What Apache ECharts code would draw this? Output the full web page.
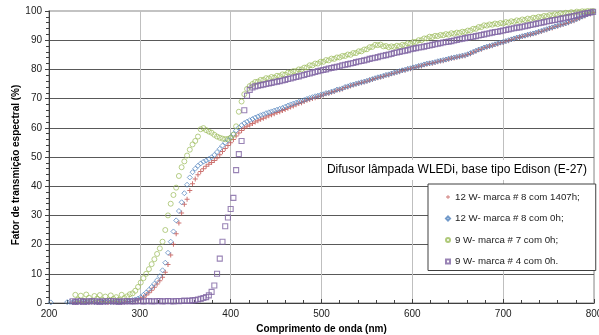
<!DOCTYPE html>
<html>
<head>
<meta charset="utf-8">
<script src="https://cdn.jsdelivr.net/npm/echarts@6/dist/echarts.min.js"></script>
<style>
html,body{margin:0;padding:0;background:#fff;}
#chart{width:599px;height:335px;}
</style>
</head>
<body>
<div id="chart"></div>
<script>
// Wavelength grid (nm)
const wavelengths = [
202,205,208,211,214,217,220,223,226,229,
232,235,238,241,244,247,250,253,256,259,
262,265,268,271,274,277,280,283,286,289,
292,295,298,301,304,307,310,313,316,319,
322,325,328,331,334,337,340,343,346,349,
352,355,358,361,364,367,370,373,376,379,
382,385,388,391,394,397,400,403,406,409,
412,415,418,421,424,427,430,433,436,439,
442,445,448,451,454,457,460,463,466,469,
472,475,478,481,484,487,490,493,496,499,
502,505,508,511,514,517,520,523,526,529,
532,535,538,541,544,547,550,553,556,559,
562,565,568,571,574,577,580,583,586,589,
592,595,598,601,604,607,610,613,616,619,
622,625,628,631,634,637,640,643,646,649,
652,655,658,661,664,667,670,673,676,679,
682,685,688,691,694,697,700,703,706,709,
712,715,718,721,724,727,730,733,736,739,
742,745,748,751,754,757,760,763,766,769,
772,775,778,781,784,787,790,793,796,799
];

// 12 W- marca # 8 com 1407h (red +)
const red1407h = [
null,null,null,null,null,null,null,null,0.3,0.2,
0.3,0.2,0.4,0.3,0.2,0.4,0.3,0.2,0.3,0.4,
0.3,0.2,0.4,0.3,0.3,0.4,0.2,0.3,0.4,0.5,
0.6,0.8,1.0,1.4,2.0,2.7,3.5,4.4,5.4,6.5,
7.6,8.8,10.5,13.2,16.4,20.1,23.7,27.4,30.8,33.8,
35.5,38.5,40.8,42.5,43.9,45.0,46.0,46.8,47.5,48.1,
48.8,49.7,50.8,51.9,52.9,53.9,54.9,56.0,57.2,58.2,
59.1,59.9,60.5,61.0,61.5,62.0,62.4,62.9,63.3,63.7,
64.1,64.5,64.8,65.2,65.5,65.9,66.3,66.7,67.1,67.5,
67.9,68.3,68.6,69.0,69.4,69.7,70.0,70.3,70.6,70.9,
71.2,71.7,71.8,72.2,72.4,72.9,73.0,73.3,73.8,74.0,
74.3,74.7,74.9,75.2,75.4,75.7,75.9,76.3,76.5,76.9,
77.1,77.4,77.6,78.0,78.1,78.5,78.7,79.0,79.2,79.6,
79.7,80.1,80.2,80.6,80.7,81.1,81.2,81.6,81.8,82.0,
82.1,82.4,82.6,82.9,83.0,83.3,83.5,83.8,83.9,84.2,
84.3,84.6,84.7,85.1,85.4,85.9,86.2,86.7,86.9,87.4,
87.6,87.9,88.1,88.5,88.7,89.1,89.2,89.6,89.8,90.2,
90.4,90.8,90.9,91.3,91.4,91.8,91.9,92.2,92.4,92.8,
93.0,93.4,93.6,94.0,94.2,94.6,94.8,95.2,95.4,95.7,
96.0,96.5,96.7,97.2,97.5,98.0,98.3,98.8,99.0,99.5
];

// 12 W- marca # 8 com 0h (blue diamonds)
const blue0h = [
0.2,null,null,null,null,null,0.3,0.4,0.2,0.5,
0.4,0.3,0.5,0.3,0.4,0.6,0.3,0.4,0.5,0.3,
0.4,0.5,0.3,0.4,0.6,0.4,0.5,0.4,0.6,0.8,
1.0,1.2,1.5,2.0,2.8,3.6,4.5,5.5,6.6,7.8,
9.2,11.2,13.8,17.2,21.0,24.5,28.3,31.5,34.5,37.6,
40.5,43.0,44.8,46.0,47.0,47.8,48.4,48.8,49.3,49.9,
50.7,51.7,52.8,53.9,54.9,55.8,56.8,57.9,59.1,60.1,
60.9,61.6,62.1,62.6,63.0,63.5,63.9,64.3,64.6,65.0,
65.3,65.6,65.9,66.2,66.5,66.8,67.2,67.6,68.0,68.3,
68.6,68.9,69.2,69.5,69.9,70.2,70.5,70.8,71.0,71.3,
71.5,71.9,72.0,72.4,72.6,73.1,73.2,73.5,74.0,74.2,
74.6,74.8,75.1,75.3,75.6,75.8,76.1,76.4,76.7,77.0,
77.3,77.5,77.8,78.1,78.3,78.6,78.9,79.1,79.4,79.7,
79.9,80.2,80.4,80.7,80.9,81.2,81.4,81.7,82.0,82.1,
82.3,82.5,82.8,83.0,83.2,83.4,83.7,83.9,84.1,84.3,
84.5,84.7,84.9,85.2,85.6,86.0,86.4,86.8,87.1,87.5,
87.8,88.0,88.3,88.6,88.9,89.2,89.4,89.7,90.0,90.3,
90.6,90.9,91.1,91.4,91.6,91.9,92.1,92.3,92.6,92.9,
93.2,93.5,93.8,94.1,94.4,94.7,95.0,95.3,95.6,95.8,
96.2,96.6,96.9,97.3,97.7,98.1,98.5,98.9,99.2,99.6
];

// 9 W- marca # 7 com 0h (green circles)
const green0h = [
null,null,null,null,null,null,null,null,null,2.8,
1.2,2.5,0.8,2.9,1.8,0.6,2.4,1.5,2.7,1.0,
2.2,0.9,2.6,1.4,2.0,1.1,2.8,1.7,2.3,3.0,
3.3,4.2,5.5,7.0,8.5,10.0,11.6,13.3,15.0,16.8,
18.7,21.0,25.0,30.0,34.0,37.0,39.5,43.5,46.5,48.5,
50.5,52.5,54.3,55.5,57.0,59.5,59.9,59.2,58.7,58.3,
57.6,57.0,56.6,56.3,56.1,56.2,56.6,57.6,60.5,65.5,
69.0,71.5,73.3,74.3,75.0,75.7,75.8,76.4,76.4,77.0,
76.9,77.4,77.2,77.8,77.7,78.3,78.2,78.9,78.9,79.4,
79.4,80.0,80.0,80.6,80.7,81.4,81.4,82.0,82.0,82.6,
82.6,83.2,83.1,83.7,83.6,84.1,84.1,84.6,84.6,85.1,
85.0,85.6,85.6,86.2,86.2,86.8,86.9,87.6,87.7,88.4,
88.3,88.5,87.9,88.0,87.6,87.9,87.7,88.1,87.9,88.4,
88.3,88.9,88.8,89.4,89.4,90.0,90.0,90.6,90.6,91.2,
91.1,91.5,91.4,91.8,91.7,92.1,91.9,92.4,92.2,92.6,
92.5,92.9,92.8,93.3,93.3,93.9,93.9,94.5,94.5,95.1,
95.0,95.4,95.3,95.7,95.5,95.9,95.7,96.2,96.0,96.5,
96.3,96.8,96.6,97.1,96.9,97.4,97.2,97.7,97.6,98.0,
97.9,98.3,98.2,98.6,98.5,98.9,98.7,99.2,99.0,99.4,
99.2,99.6,99.4,99.8,99.6,99.9,99.8,100,99.9,100
];

// 9 W- marca # 4 com 0h (purple squares)
const purple0h = [
null,null,null,null,null,null,null,null,0.6,0.4,
0.5,0.7,0.4,0.6,0.5,0.7,0.5,0.6,0.4,0.6,
0.5,0.6,0.7,0.5,0.6,0.4,0.6,0.5,0.7,0.5,
0.6,0.5,0.7,0.6,0.5,0.6,0.7,0.5,0.6,0.6,
0.7,0.5,0.6,0.7,0.6,0.5,0.7,0.6,0.7,0.8,
0.7,0.8,0.9,1.0,1.2,1.4,1.7,2.0,2.6,3.8,
6.0,10.0,15.2,21.0,26.3,29.3,32.2,36.0,45.5,51.0,
55.5,66.0,71.0,73.0,73.8,74.2,74.4,74.6,74.8,75.0,
75.2,75.4,75.6,75.8,76.0,76.2,76.4,76.7,76.9,77.2,
77.4,77.6,77.9,78.1,78.4,78.6,78.9,79.1,79.4,79.6,
79.8,80.0,80.3,80.5,80.7,80.9,81.1,81.4,81.6,81.8,
82.0,82.2,82.5,82.7,82.9,83.1,83.3,83.6,83.8,84.0,
84.2,84.5,84.7,84.9,85.1,85.3,85.6,85.8,86.0,86.2,
86.4,86.6,86.9,87.1,87.3,87.5,87.6,87.8,88.0,88.2,
88.4,88.6,88.8,89.0,89.2,89.4,89.5,89.7,89.9,90.1,
90.3,90.5,90.7,90.9,91.1,91.2,91.4,91.6,91.8,92.0,
92.2,92.4,92.6,92.8,92.9,93.1,93.3,93.5,93.7,93.9,
94.1,94.3,94.4,94.6,94.8,95.0,95.2,95.4,95.6,95.8,
96.0,96.2,96.4,96.6,96.8,96.9,97.1,97.3,97.5,97.7,
97.9,98.1,98.3,98.5,98.7,98.9,99.1,99.3,99.5,99.7
];

const seriesNames = [
  '12 W- marca # 8 com 1407h;',
  '12 W- marca # 8 com 0h;',
  '9 W- marca # 7 com 0h;',
  '9 W- marca # 4 com 0h.'
];
const xTicks = [200, 300, 400, 500, 600, 700, 800];
const yTicks = [0, 10, 20, 30, 40, 50, 60, 70, 80, 90, 100];

function pairs(vals) {
  const out = [];
  for (let i = 0; i < wavelengths.length; i++) {
    if (vals[i] !== null && vals[i] !== undefined) out.push([wavelengths[i], vals[i]]);
  }
  return out;
}

const FONT = "'Liberation Sans', Arial, sans-serif";
const chart = echarts.init(document.getElementById('chart'), null, {renderer: 'canvas'});
const plus = 'path://M4,0H6V4H10V6H6V10H4V6H0V4H4Z';

chart.setOption({
  animation: false,
  backgroundColor: '#fff',
  textStyle: {fontFamily: FONT},
  grid: {left: 49, right: 5, top: 11, bottom: 32, outerBoundsMode: 'none', containLabel: false,
         show: true, borderColor: '#b0b0b0', borderWidth: 1.5, backgroundColor: 'transparent'},
  xAxis: {
    type: 'value', min: xTicks[0], max: xTicks[xTicks.length - 1], interval: 100,
    name: 'Comprimento de onda (nm)', nameLocation: 'middle', nameGap: 19,
    nameTextStyle: {fontFamily: FONT, fontSize: 10, fontWeight: 'bold', color: '#000'},
    axisLine: {show: true, onZero: false, lineStyle: {color: '#404040', width: 1}},
    axisTick: {show: true, inside: true, length: 4, lineStyle: {color: '#404040'}},
    minorTick: {show: true, splitNumber: 5, length: 3, lineStyle: {color: '#404040'}},
    axisLabel: {fontFamily: FONT, fontSize: 10, color: '#222', margin: 6},
    splitLine: {show: true, lineStyle: {color: '#bfbfbf', width: 1}}
  },
  yAxis: {
    type: 'value', min: yTicks[0], max: yTicks[yTicks.length - 1], interval: 10,
    axisLine: {show: true, lineStyle: {color: '#404040', width: 1}},
    axisTick: {show: true, inside: false, length: 4, lineStyle: {color: '#404040'}},
    minorTick: {show: true, splitNumber: 5, length: 3, lineStyle: {color: '#404040'}},
    axisLabel: {fontFamily: FONT, fontSize: 10, color: '#222', margin: 7},
    splitLine: {show: true, showMaxLine: false, lineStyle: {color: '#595959', width: 1}}
  },
  legend: {
    show: true, orient: 'vertical', left: 428, top: 184,
    padding: [8, 16, 4, 17], itemGap: 11.5,
    itemWidth: 4, itemHeight: 4,
    backgroundColor: '#fff', borderColor: '#404040', borderWidth: 1,
    textStyle: {fontFamily: FONT, fontSize: 9.7, color: '#222'},
    data: seriesNames
  },
  graphic: [
    {type: 'text', x: 16, y: 165, rotation: Math.PI / 2, z: 100,
     style: {text: 'Fator de transmição espectral (%)', font: 'bold 10px ' + FONT, fill: '#000', textAlign: 'center', textVerticalAlign: 'middle', align: 'center', verticalAlign: 'middle'}},
    {type: 'text', x: 590, y: 170, z: 100,
     style: {text: 'Difusor lâmpada WLEDi, base tipo Edison (E-27)', font: '12px ' + FONT, fill: '#000', textAlign: 'right', textVerticalAlign: 'middle', align: 'right', verticalAlign: 'middle', backgroundColor: '#fff', padding: [4, 3]}}
  ],
  series: [
    {name: seriesNames[0], type: 'scatter', data: pairs(red1407h), symbol: plus, symbolSize: 5,
     itemStyle: {color: '#C0504D'}, z: 2},
    {name: seriesNames[1], type: 'scatter', data: pairs(blue0h), symbol: 'diamond', symbolSize: 5,
     itemStyle: {color: 'rgba(255,255,255,0)', borderColor: '#4F81BD', borderWidth: 0.9}, z: 3},
    {name: seriesNames[2], type: 'scatter', data: pairs(green0h), symbol: 'circle', symbolSize: 5,
     itemStyle: {color: 'rgba(255,255,255,0)', borderColor: '#9BBB59', borderWidth: 0.9}, z: 4},
    {name: seriesNames[3], type: 'scatter', data: pairs(purple0h), symbol: 'rect', symbolSize: 5,
     itemStyle: {color: 'rgba(255,255,255,0)', borderColor: '#8064A2', borderWidth: 1.1}, z: 5}
  ]
});
</script>
</body>
</html>
